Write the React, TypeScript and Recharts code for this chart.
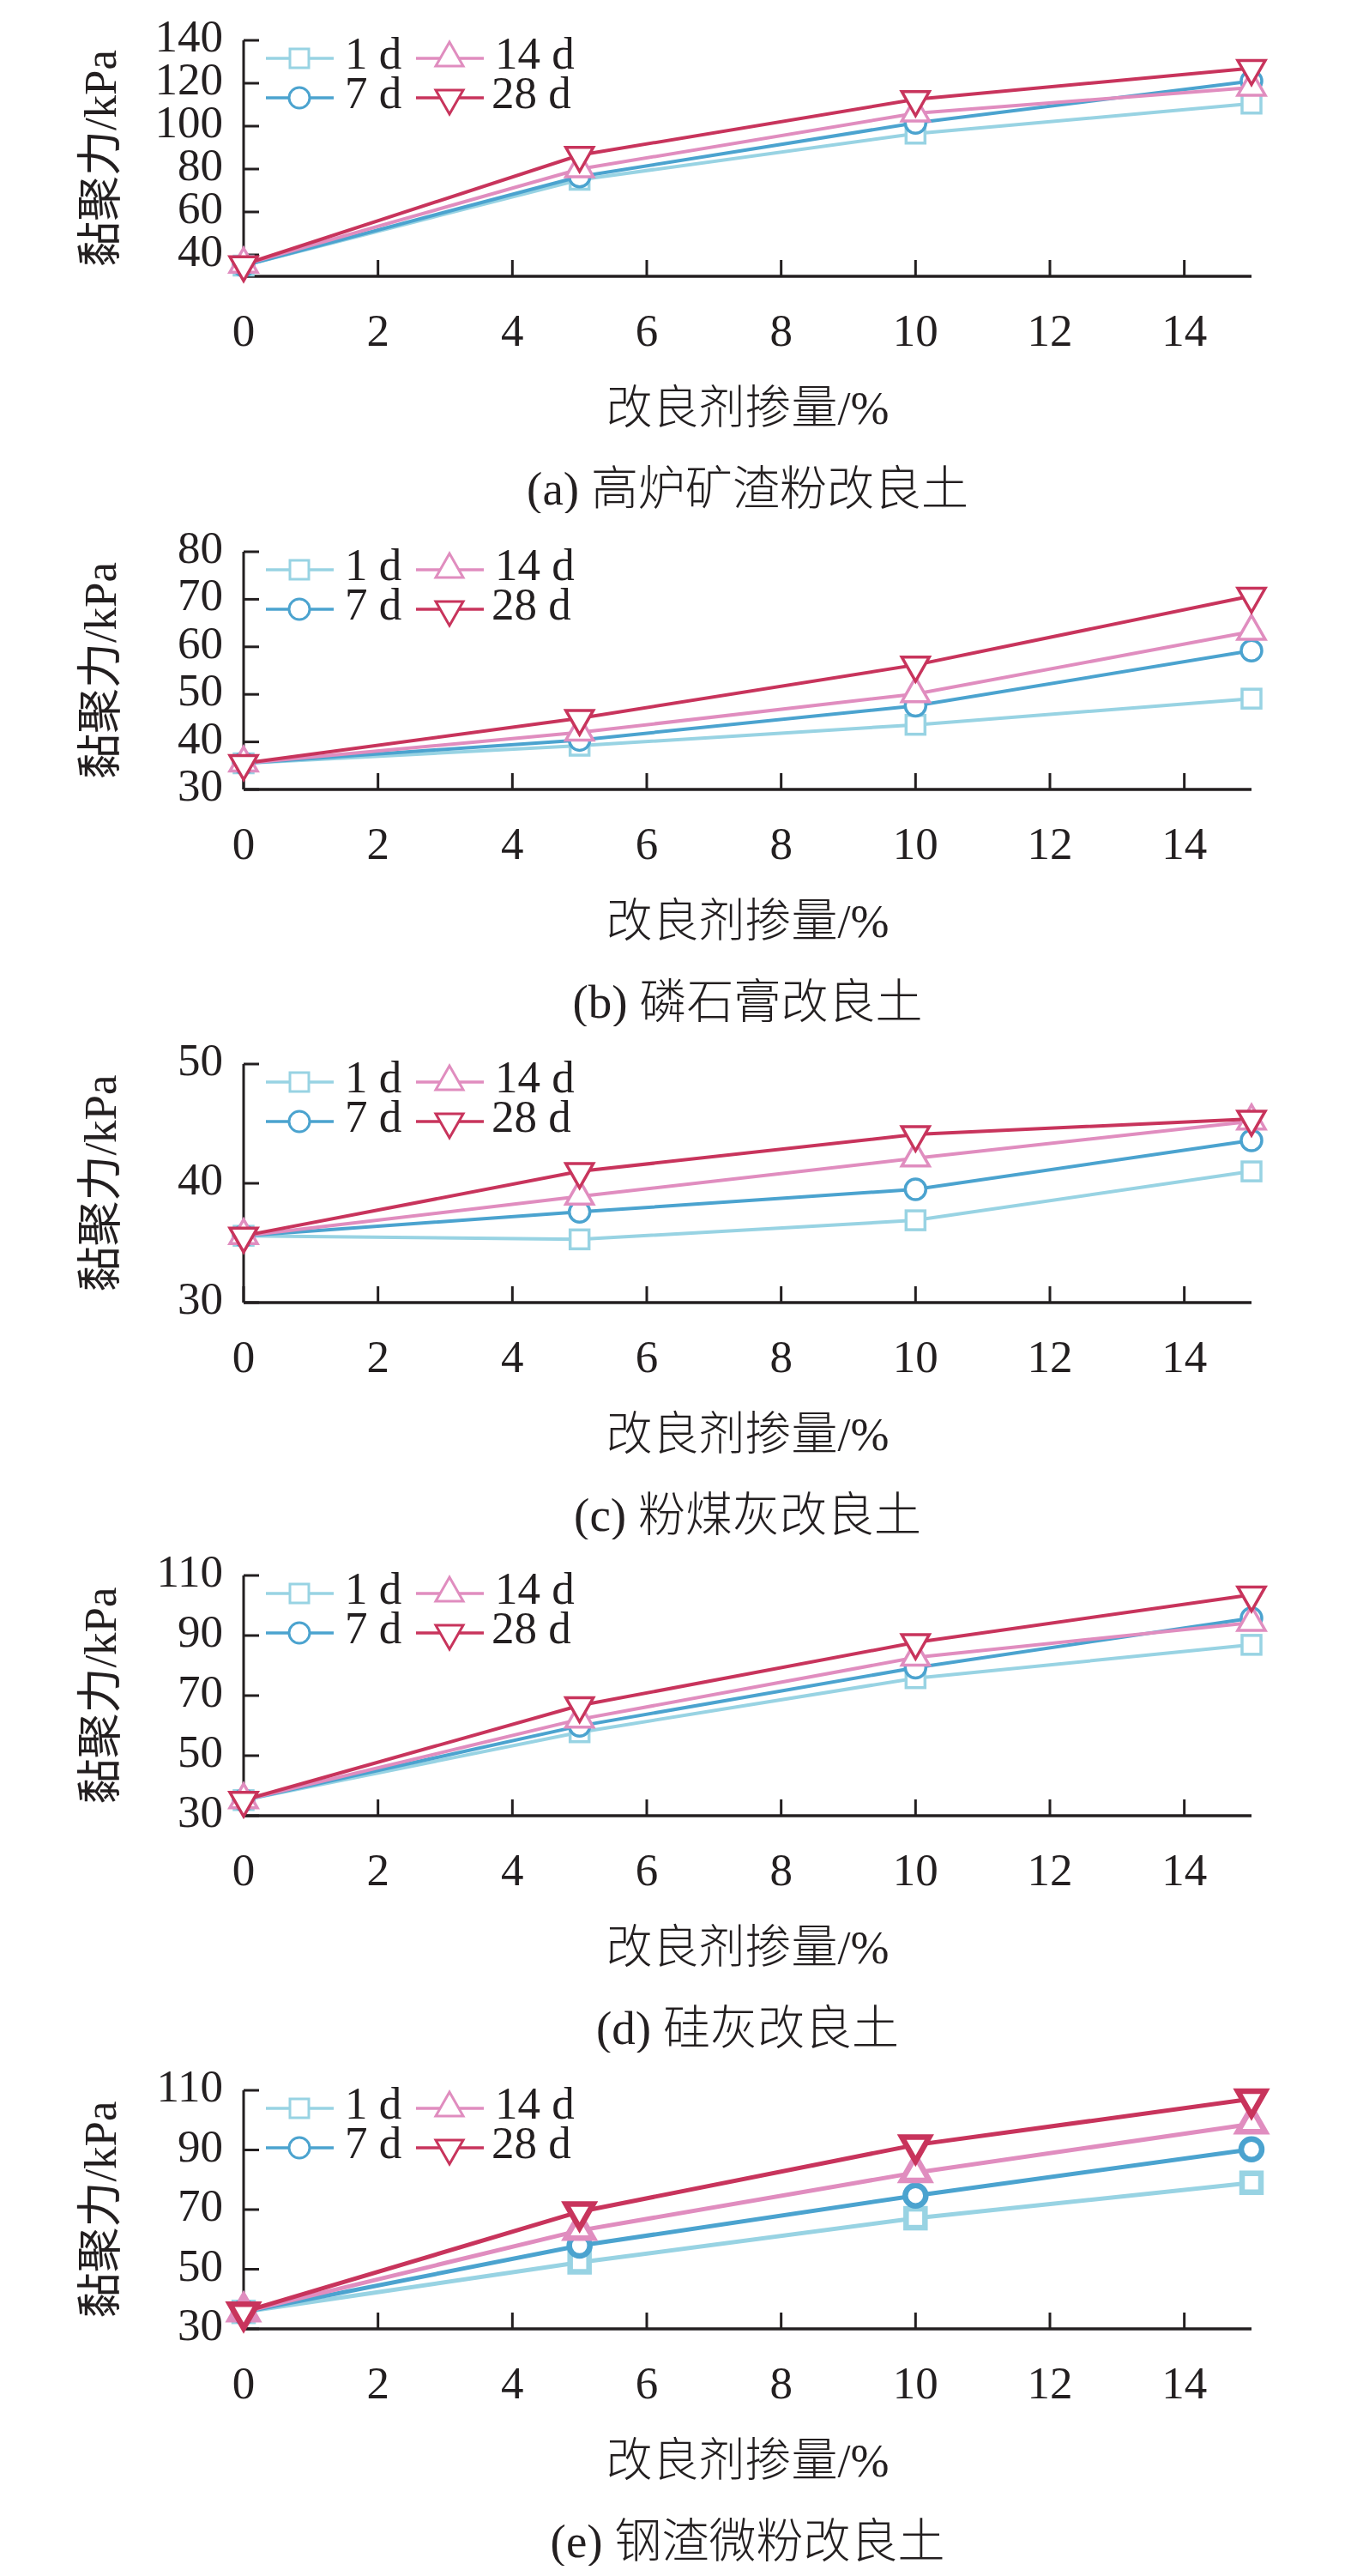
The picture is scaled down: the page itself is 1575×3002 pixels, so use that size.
import React from "react";
import { LineChart, Line, XAxis, YAxis, Legend } from "recharts";

// 改良剂掺量 (%)
const DOSAGE = [0, 5, 10, 15];
const X_TICKS = [0, 2, 4, 6, 8, 10, 12, 14];
const AGES = ["1 d", "7 d", "14 d", "28 d"];
const AGE_KEYS = ["d1", "d7", "d14", "d28"];
const AGE_COLORS = ["#98d3e3", "#4ba3cf", "#e08dbf", "#c8345c"];
const AGE_MARKERS = ["square", "circle", "up", "down"];

// (a) 高炉矿渣粉
const SLAG_1D = [35, 75, 96.5, 110.5];
const SLAG_7D = [35, 76.5, 101.5, 121];
const SLAG_14D = [35.5, 80, 106, 118];
const SLAG_28D = [35.5, 86.5, 112.5, 127];
const SLAG_TICKS = [40, 60, 80, 100, 120, 140];

// (b) 磷石膏
const GYPSUM_1D = [35.5, 39.2, 43.6, 49.1];
const GYPSUM_7D = [35.5, 40.4, 47.6, 59.2];
const GYPSUM_14D = [35.5, 42, 50.1, 63.2];
const GYPSUM_28D = [35.5, 45, 56.2, 70.7];
const GYPSUM_TICKS = [30, 40, 50, 60, 70, 80];

// (c) 粉煤灰
const FLYASH_1D = [35.6, 35.3, 36.9, 41.0];
const FLYASH_7D = [35.6, 37.6, 39.5, 43.6];
const FLYASH_14D = [35.6, 38.9, 42.1, 45.2];
const FLYASH_28D = [35.6, 41.0, 44.1, 45.4];
const FLYASH_TICKS = [30, 40, 50];

// (d) 硅灰
const SILICA_1D = [35.2, 57.8, 75.8, 86.9];
const SILICA_7D = [35.2, 59.9, 79.3, 95.8];
const SILICA_14D = [35.2, 62.1, 82.7, 94.3];
const SILICA_28D = [35.2, 66.7, 87.7, 103.6];
const SILICA_TICKS = [30, 50, 70, 90, 110];

// (e) 钢渣微粉
const STEEL_1D = [35.7, 52.3, 67.1, 79.0];
const STEEL_7D = [35.7, 57.9, 74.7, 90.2];
const STEEL_14D = [35.7, 63.0, 82.4, 98.7];
const STEEL_28D = [35.7, 69.3, 91.7, 107.1];
const STEEL_TICKS = [30, 50, 70, 90, 110];

const INK = "#231f20";
const SERIF = '"Liberation Serif", "Noto Sans CJK SC", serif';

const toRows = (series: number[][]) =>
  DOSAGE.map((x, i) => {
    const row: any = { x };
    AGE_KEYS.forEach((k, j) => (row[k] = series[j][i]));
    return row;
  });

const PANELS = [
  { caption: "(a) 高炉矿渣粉改良土", ticks: SLAG_TICKS, domain: [30, 140], rows: toRows([SLAG_1D, SLAG_7D, SLAG_14D, SLAG_28D]), top: 47, sw: 4, msw: 3.5 },
  { caption: "(b) 磷石膏改良土", ticks: GYPSUM_TICKS, domain: [30, 80], rows: toRows([GYPSUM_1D, GYPSUM_7D, GYPSUM_14D, GYPSUM_28D]), top: 45, sw: 4, msw: 3.5 },
  { caption: "(c) 粉煤灰改良土", ticks: FLYASH_TICKS, domain: [30, 50], rows: toRows([FLYASH_1D, FLYASH_7D, FLYASH_14D, FLYASH_28D]), top: 44, sw: 4, msw: 3.5 },
  { caption: "(d) 硅灰改良土", ticks: SILICA_TICKS, domain: [30, 110], rows: toRows([SILICA_1D, SILICA_7D, SILICA_14D, SILICA_28D]), top: 42, sw: 4, msw: 3.5 },
  { caption: "(e) 钢渣微粉改良土", ticks: STEEL_TICKS, domain: [30, 110], rows: toRows([STEEL_1D, STEEL_7D, STEEL_14D, STEEL_28D]), top: 44, sw: 5, msw: 6.5 },
];

// triangles sit on their centroid, like the original plotting program
function Marker({ kind, x, y, color, sw }: any) {
  const common = { fill: "#fff", stroke: color, strokeWidth: sw, strokeLinejoin: "miter" as const };
  if (kind === "square") return <rect x={x - 11} y={y - 11} width={22} height={22} {...common} />;
  if (kind === "circle") return <circle cx={x} cy={y} r={12} {...common} />;
  if (kind === "up") return <polygon points={`${x},${y - 19} ${x + 16},${y + 9} ${x - 16},${y + 9}`} {...common} />;
  return <polygon points={`${x - 16},${y - 9} ${x + 16},${y - 9} ${x},${y + 19}`} {...common} />;
}

const makeDot = (kind: string, color: string, sw: number) => (p: any) => {
  if (p.cx == null || p.cy == null) return <g key={p.index} />;
  return <Marker key={p.index} kind={kind} x={p.cx} y={p.cy} color={color} sw={sw} />;
};

const YTick = ({ x, y, payload }: any) => (
  <text x={x} y={y + 13} textAnchor="end" fontFamily={SERIF} fontSize={53} fill={INK}>
    {payload.value}
  </text>
);

const XTick = ({ x, y, payload }: any) => (
  <text x={x} y={y} textAnchor="middle" fontFamily={SERIF} fontSize={53} fill={INK}>
    {payload.value}
  </text>
);

const yLabel = (props: any) => {
  const vb = props.viewBox || {};
  const cx = 117;
  const cy = vb.y + vb.height / 2;
  return (
    <text
      x={cx}
      y={cy}
      transform={`rotate(-90 ${cx} ${cy})`}
      textAnchor="middle"
      dominantBaseline="central"
      fontFamily={SERIF}
      fontSize={53}
      fill={INK}
    >
      黏聚力/kPa
    </text>
  );
};

const xLabel = (caption: string) => (props: any) => {
  const vb = props.viewBox || {};
  const cx = vb.x + vb.width / 2;
  return (
    <g>
      <text x={cx} y={vb.y + 154} textAnchor="middle" dominantBaseline="central" fontFamily={SERIF} fontSize={54} fontWeight={300} fill={INK}>
        改良剂掺量/%
      </text>
      <text x={cx} y={vb.y + 247} textAnchor="middle" dominantBaseline="central" fontFamily={SERIF} fontSize={55} fontWeight={300} fill={INK}>
        {caption}
      </text>
    </g>
  );
};

const LegendBox = () => (
  <svg width={320} height={130} style={{ overflow: "visible" }}>
    {AGES.map((name, i) => {
      const col = Math.floor(i / 2);
      const row = i % 2;
      const y = 51 + row * 46;
      const x0 = 10 + col * 175;
      return (
        <g key={name}>
          <line x1={x0} x2={x0 + 79} y1={y} y2={y} stroke={AGE_COLORS[i]} strokeWidth={3.5} />
          <Marker kind={AGE_MARKERS[i]} x={x0 + 39} y={y} color={AGE_COLORS[i]} sw={3} />
          <text x={x0 + 92 - (col === 1 && row === 1 ? 4 : 0)} y={y + 12} fontFamily={SERIF} fontSize={53} fill={INK}>
            {name}
          </text>
        </g>
      );
    })}
  </svg>
);

function Panel({ panel }: any) {
  return (
    <LineChart width={1575} height={598} data={panel.rows} margin={{ top: panel.top, right: 116, bottom: 0, left: 0 }}>
      <XAxis
        dataKey="x"
        type="number"
        domain={[0, 15]}
        ticks={X_TICKS}
        interval={0}
        height={276}
        tickSize={-19}
        tickMargin={100}
        tick={<XTick />}
        axisLine={{ stroke: INK, strokeWidth: 3.5 }}
        tickLine={{ stroke: INK, strokeWidth: 3 }}
        label={xLabel(panel.caption)}
      />
      <YAxis
        type="number"
        domain={panel.domain}
        ticks={panel.ticks}
        interval={0}
        width={284}
        tickSize={-18}
        tickMargin={42}
        tick={<YTick />}
        axisLine={{ stroke: INK, strokeWidth: 3 }}
        tickLine={{ stroke: INK, strokeWidth: 3 }}
        label={yLabel}
      />
      <Legend
        layout="vertical"
        align="center"
        verticalAlign="middle"
        content={() => <LegendBox />}
        wrapperStyle={{ position: "absolute", left: 300, top: panel.top - 30, width: 320, height: 130 }}
      />
      {AGE_KEYS.map((k, i) => (
        <Line
          key={k}
          type="linear"
          dataKey={k}
          name={AGES[i]}
          stroke={AGE_COLORS[i]}
          strokeWidth={panel.sw}
          dot={makeDot(AGE_MARKERS[i], AGE_COLORS[i], panel.msw)}
          activeDot={false}
          isAnimationActive={false}
        />
      ))}
    </LineChart>
  );
}

export default function App() {
  return (
    <div style={{ position: "absolute", left: 0, top: 0, width: 1575, height: 3002, background: "#fff" }}>
      {PANELS.map((p) => (
        <div key={p.caption} style={{ width: 1575, height: 598 }}>
          <Panel panel={p} />
        </div>
      ))}
    </div>
  );
}
